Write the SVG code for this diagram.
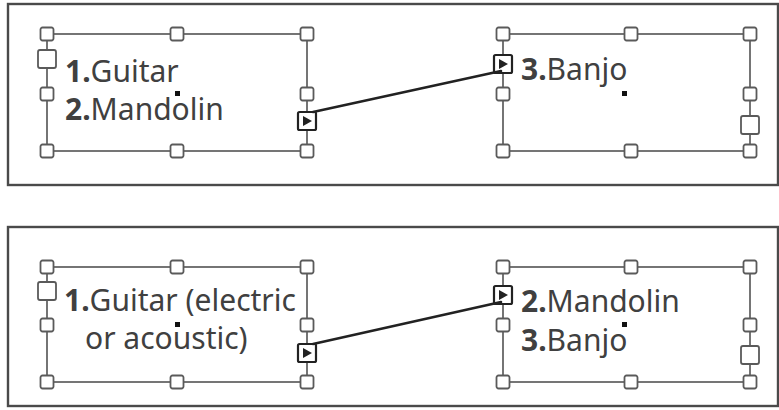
<svg xmlns="http://www.w3.org/2000/svg" xmlns:xlink="http://www.w3.org/1999/xlink" width="779" height="410" viewBox="0 0 779 410">
<style>
.panel{fill:#fff;stroke:#4a4a4a;stroke-width:2.4}
.frame{fill:none;stroke:#666;stroke-width:1.8}
.h{fill:#fff;stroke:#5a5a5a;stroke-width:1.8}
.port{fill:#fff;stroke:#222;stroke-width:2.2}
.tri{fill:#222}
.dot{fill:#111}
.conn{stroke:#222;stroke-width:2.6;fill:none;stroke-linecap:round}
text{font-family:"Noto Sans","Open Sans","Liberation Sans",sans-serif;font-size:30px;fill:#404040}
.b{font-weight:bold}
</style>
<defs>
<rect id="hs" class="h" x="-6.5" y="-6.5" width="13" height="13" rx="2"/>
<rect id="hb" class="h" x="-9" y="-9" width="18" height="18" rx="2"/>
<g id="pt"><rect class="port" x="-9" y="-9" width="18" height="18" rx="1.5"/><path class="tri" d="M-4,-5 L5,0 L-4,5 Z"/></g>
</defs>

<rect class="panel" x="8" y="4" width="770" height="181"/>
<rect class="panel" x="8" y="227" width="770" height="179"/>

<g id="frame-top-left">
<rect class="frame" x="47" y="34" width="260" height="117"/>
<use xlink:href="#hs" x="47" y="34"/><use xlink:href="#hs" x="177" y="34"/><use xlink:href="#hs" x="307" y="34"/>
<use xlink:href="#hs" x="47" y="151"/><use xlink:href="#hs" x="177" y="151"/><use xlink:href="#hs" x="307" y="151"/>
<use xlink:href="#hs" x="47" y="94"/><use xlink:href="#hs" x="307" y="94"/>
<use xlink:href="#hb" x="47" y="59"/>
<use xlink:href="#pt" x="307" y="121"/>
<rect class="dot" x="175" y="91" width="5" height="5"/>
<text x="65" y="82"><tspan class="b">1.</tspan>Guitar</text>
<text x="65" y="120"><tspan class="b">2.</tspan>Mandolin</text>
</g>

<g id="frame-top-right">
<rect class="frame" x="503" y="34" width="247" height="117"/>
<use xlink:href="#hs" x="503" y="34"/><use xlink:href="#hs" x="631" y="34"/><use xlink:href="#hs" x="750" y="34"/>
<use xlink:href="#hs" x="503" y="151"/><use xlink:href="#hs" x="631" y="151"/><use xlink:href="#hs" x="750" y="151"/>
<use xlink:href="#hs" x="503" y="94"/><use xlink:href="#hs" x="750" y="94"/>
<use xlink:href="#hb" x="750" y="125"/>
<use xlink:href="#pt" x="503" y="64"/>
<rect class="dot" x="622" y="91" width="5" height="5"/>
<text x="521" y="80"><tspan class="b">3.</tspan>Banjo</text>
</g>

<g id="frame-bottom-left">
<rect class="frame" x="47" y="267" width="260" height="115"/>
<use xlink:href="#hs" x="47" y="267"/><use xlink:href="#hs" x="177" y="267"/><use xlink:href="#hs" x="307" y="267"/>
<use xlink:href="#hs" x="47" y="382"/><use xlink:href="#hs" x="177" y="382"/><use xlink:href="#hs" x="307" y="382"/>
<use xlink:href="#hs" x="47" y="325"/><use xlink:href="#hs" x="307" y="325"/>
<use xlink:href="#hb" x="47" y="291"/>
<use xlink:href="#pt" x="307" y="353"/>
<rect class="dot" x="175" y="322" width="5" height="5"/>
<text x="64" y="311"><tspan class="b">1.</tspan>Guitar (electric</text>
<text x="85" y="349">or acoustic)</text>
</g>

<g id="frame-bottom-right">
<rect class="frame" x="503" y="267" width="247" height="115"/>
<use xlink:href="#hs" x="503" y="267"/><use xlink:href="#hs" x="631" y="267"/><use xlink:href="#hs" x="750" y="267"/>
<use xlink:href="#hs" x="503" y="382"/><use xlink:href="#hs" x="631" y="382"/><use xlink:href="#hs" x="750" y="382"/>
<use xlink:href="#hs" x="503" y="325"/><use xlink:href="#hs" x="750" y="325"/>
<use xlink:href="#hb" x="750" y="355"/>
<use xlink:href="#pt" x="503" y="295"/>
<rect class="dot" x="622" y="322" width="5" height="5"/>
<text x="521" y="312"><tspan class="b">2.</tspan>Mandolin</text>
<text x="521" y="351"><tspan class="b">3.</tspan>Banjo</text>
</g>

<g id="connectors">
<line class="conn" x1="313" y1="112" x2="501" y2="71"/>
<line class="conn" x1="313" y1="344" x2="501" y2="302"/>
</g>
</svg>
